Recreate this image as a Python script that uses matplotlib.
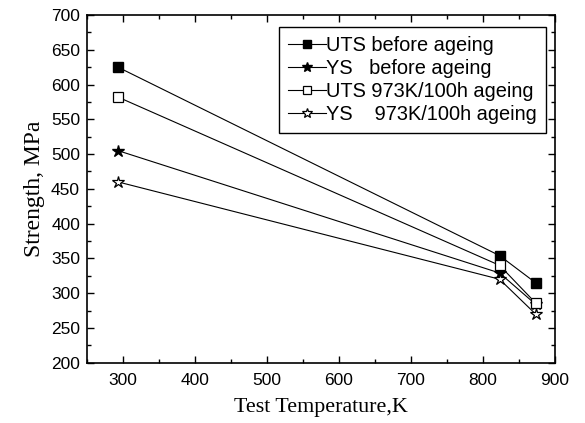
import matplotlib
matplotlib.use("Agg")
import matplotlib.pyplot as plt
from matplotlib.ticker import MultipleLocator

temps = [293, 823, 873]
uts_before = [625, 354, 315]
ys_before = [505, 329, 284]
uts_aged = [582, 340, 286]
ys_aged = [460, 320, 270]
labels = ["UTS before ageing", "YS   before ageing",
          "UTS 973K/100h ageing", "YS    973K/100h ageing"]

plt.rcParams['font.family'] = ['Liberation Sans', 'DejaVu Sans']

fig = plt.figure(figsize=(5.85, 4.23), dpi=100)
ax = fig.add_axes([0.1487, 0.1426, 0.8, 0.8219])

ax.plot(temps, uts_before, '-s', color='black', mfc='black', mec='black', ms=7.5, lw=0.8, label=labels[0])
ax.plot(temps, ys_before, '-*', color='black', mfc='black', mec='black', ms=9, lw=0.8, label=labels[1])
ax.plot(temps, uts_aged, '-s', color='black', mfc='white', mec='black', ms=7.5, mew=0.9, lw=0.8, label=labels[2])
ax.plot(temps, ys_aged, '-*', color='black', mfc='white', mec='black', ms=9, mew=0.9, lw=0.8, label=labels[3])

ax.set_xlim(250, 900)
ax.set_ylim(200, 700)
ax.xaxis.set_major_locator(MultipleLocator(100))
ax.xaxis.set_minor_locator(MultipleLocator(50))
ax.yaxis.set_major_locator(MultipleLocator(50))
ax.yaxis.set_minor_locator(MultipleLocator(25))
ax.tick_params(which='both', direction='in', top=True, right=True, labelsize=12.5, width=1)
ax.tick_params(which='major', length=5)
ax.tick_params(which='minor', length=3)
ax.tick_params(axis='x', which='major', pad=7.5)
ax.tick_params(axis='y', which='major', pad=5)
for s in ax.spines.values():
    s.set_linewidth(1.2)

ax.set_xlabel("Test Temperature,K", family=['Liberation Serif'], fontsize=15.8, labelpad=7)
ax.set_ylabel("Strength, MPa", family=['Liberation Serif'], fontsize=17, labelpad=4)

leg = ax.legend(loc='upper right', bbox_to_anchor=(0.981, 0.965), fontsize=14.4,
                handlelength=1.9, handletextpad=0.0, borderpad=0.45, labelspacing=0.2,
                markerscale=0.8, borderaxespad=0.0,
                fancybox=False, framealpha=1, edgecolor='black')
leg.get_frame().set_linewidth(1.0)

fig.savefig("out.png", dpi=100)
